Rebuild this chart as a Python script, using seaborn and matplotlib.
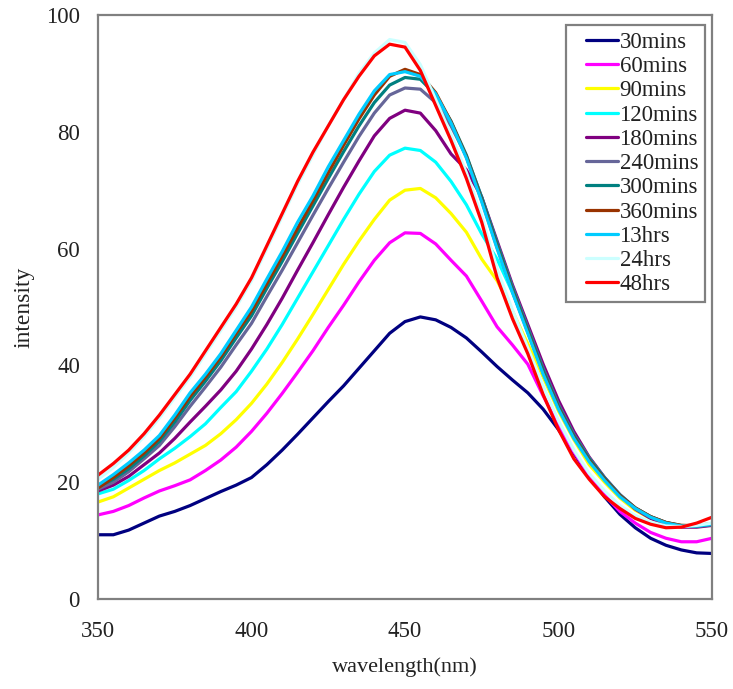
import matplotlib
matplotlib.use("Agg")
import matplotlib.pyplot as plt
from matplotlib.legend_handler import HandlerLine2D
import numpy as np
import seaborn as sns
import pandas as pd

wavelength = [350, 355, 360, 365, 370, 375, 380, 385, 390, 395, 400, 405, 410, 415, 420,
              425, 430, 435, 440, 445, 450, 455, 460, 465, 470, 475, 480, 485, 490, 495,
              500, 505, 510, 515, 520, 525, 530, 535, 540, 545, 550]

series_names = ["30mins", "60mins", "90mins", "120mins", "180mins", "240mins",
                "300mins", "360mins", "13hrs", "24hrs", "48hrs"]

s30mins = [11, 11, 11.8, 13, 14.2, 15, 16, 17.2, 18.4, 19.5, 20.8, 23, 25.5, 28.2, 31,
           33.8, 36.5, 39.5, 42.5, 45.5, 47.5, 48.3, 47.8, 46.5, 44.7, 42.3, 39.8, 37.5, 35.3, 32.5,
           29, 25, 21, 17.5, 14.5, 12.2, 10.4, 9.2, 8.4, 7.9, 7.8]
s60mins = [14.4, 15, 16, 17.3, 18.5, 19.4, 20.4, 22, 23.8, 26, 28.7, 31.8, 35.2, 38.8, 42.5,
           46.5, 50.3, 54.3, 58, 61, 62.7, 62.6, 60.8, 58, 55.3, 51, 46.6, 43.5, 40.2, 34.8,
           29.7, 25.2, 21.2, 17.8, 15, 13, 11.4, 10.4, 9.8, 9.8, 10.4]
s90mins = [16.6, 17.5, 19, 20.5, 22, 23.3, 24.8, 26.3, 28.3, 30.7, 33.5, 36.8, 40.5, 44.5, 48.7,
           53, 57.3, 61.3, 65, 68.3, 70, 70.3, 68.7, 66, 62.8, 58.2, 54.5, 49.3, 43.7, 38,
           32.2, 27.3, 23, 20, 17.3, 15.2, 13.8, 12.8, 12.4, 12.5, 12.9]
s120mins = [18, 18.8, 20.3, 22, 24, 25.8, 27.8, 30, 32.8, 35.5, 39, 42.8, 47, 51.5, 56,
            60.5, 65, 69.3, 73.2, 76, 77.2, 76.8, 74.8, 71.5, 67.5, 62.5, 58.2, 52.5, 46, 39.2,
            33.2, 28.2, 23.8, 20.6, 17.7, 15.5, 14, 13, 12.5, 12.5, 12.8]
s180mins = [18.5, 19.5, 21, 23, 25, 27.5, 30.3, 33, 35.8, 39, 42.8, 47, 51.5, 56.3, 61,
            65.8, 70.5, 75, 79.3, 82.3, 83.7, 83.2, 80.2, 76.2, 73.5, 68.8, 61.3, 53.8, 47, 40.2,
            34, 28.7, 24.3, 20.8, 17.8, 15.4, 13.8, 12.8, 12.3, 12.3, 12.6]
s240mins = [18.8, 20, 21.8, 24, 26.3, 29.5, 33, 36.3, 39.7, 43.5, 47.2, 51.8, 56.3, 61, 65.7,
            70.3, 74.8, 79.2, 83.2, 86.3, 87.5, 87.3, 85, 81, 75.8, 68.8, 61, 53.5, 46.5, 39.5,
            33.3, 28.2, 24.2, 20.8, 17.9, 15.6, 14.1, 13.1, 12.5, 12.4, 12.7]
s300mins = [19.2, 20.5, 22.3, 24.5, 27, 30.3, 34, 37.3, 40.8, 44.7, 48.5, 53.2, 57.8, 62.6, 67.3,
            72, 76.6, 81, 85, 88, 89.3, 89, 86.3, 81.8, 76, 68.7, 60.8, 53.2, 46.2, 39.2,
            33, 28, 24, 20.7, 17.8, 15.6, 14.1, 13.1, 12.6, 12.5, 12.8]
s360mins = [19, 20.8, 22.8, 25, 27.5, 31, 34.7, 38, 41.5, 45.5, 49.3, 54, 58.7, 63.5, 68.2,
            73, 77.7, 82.2, 86.3, 89.5, 90.7, 89.8, 86.7, 81.7, 75.7, 68.2, 60.2, 52.7, 45.7, 38.7,
            32.7, 27.7, 23.7, 20.5, 17.7, 15.6, 14.1, 13.1, 12.6, 12.6, 12.9]
s13hrs = [19.5, 21.3, 23.3, 25.5, 28, 31.5, 35.3, 38.5, 42, 46, 50, 54.8, 59.5, 64.5, 69,
          74, 78.5, 83, 87, 89.8, 90.3, 89.5, 86.5, 81.5, 75.5, 68, 60, 52.5, 45.5, 38.5,
          32.5, 27.5, 23.5, 20.3, 17.5, 15.5, 14, 13, 12.5, 12.5, 12.8]
s24hrs = [20.5, 22.5, 25, 27.8, 31, 34.5, 38, 42, 46, 50, 54.5, 60, 65.5, 71, 76,
          81, 85.5, 90, 93.5, 95.8, 95.3, 91.5, 85.5, 79.5, 73, 65.5, 56.5, 49.5, 43, 36.5,
          30.5, 25.5, 21.5, 18.5, 16, 14.3, 13.2, 12.5, 12.4, 12.6, 13]
s48hrs = [21.2, 23.2, 25.5, 28.3, 31.5, 35, 38.5, 42.5, 46.5, 50.5, 55, 60.5, 66, 71.5, 76.5,
          81, 85.5, 89.5, 93, 95, 94.5, 90.5, 84.5, 78.5, 72, 64.5, 55, 48, 42, 35,
          29, 24, 20.5, 17.5, 15.5, 13.8, 12.8, 12.2, 12.3, 13, 14]

colors = ["#000080", "#FF00FF", "#FFFF00", "#00FFFF", "#800080", "#666699",
          "#008080", "#993300", "#00CCFF", "#CCFFFF", "#FF0000"]

x_ticks = [350, 400, 450, 500, 550]
y_ticks = [0, 20, 40, 60, 80, 100]

all_series = [s30mins, s60mins, s90mins, s120mins, s180mins, s240mins,
              s300mins, s360mins, s13hrs, s24hrs, s48hrs]
frames = []
for name, vals in zip(series_names, all_series):
    frames.append(pd.DataFrame({"wavelength": wavelength, "intensity": vals, "series": name}))
df = pd.concat(frames, ignore_index=True)

sns.set_style("white")
plt.rcParams["font.family"] = ["Liberation Serif", "DejaVu Serif"]

fig = plt.figure(figsize=(7.33, 6.89), dpi=100)
ax = fig.add_axes([98 / 733, 1 - 599 / 689, 614 / 733, 584 / 689])

palette = dict(zip(series_names, colors))
sns.lineplot(data=df, x="wavelength", y="intensity", hue="series", hue_order=series_names,
             palette=palette, linewidth=2.3, ax=ax, legend=True)

ax.set_xlim(350, 550)
ax.set_ylim(0, 100)
ax.set_xticks(x_ticks)
ax.set_yticks(y_ticks)
ax.tick_params(axis="both", direction="in", length=5, width=1.2, color="#808080",
               labelsize=16.5, labelcolor="#222222")
ax.tick_params(axis="x", pad=16)
ax.tick_params(axis="y", pad=13)
for sp in ax.spines.values():
    sp.set_color("#808080")
    sp.set_linewidth(1.6)
    sp.set_visible(True)

ax.set_xlabel("wavelength(nm)", fontsize=16, color="#222222", labelpad=11)
ax.set_ylabel("intensity", fontsize=17, color="#222222", labelpad=8)


class ShortLine(HandlerLine2D):
    def get_xdata(self, legend, xdescent, ydescent, width, height, fontsize):
        x0 = -xdescent + 0.3 * width
        x1 = -xdescent + width
        return np.array([x0, x1]), np.array([0.5 * (x0 + x1)])


handles, labels = ax.get_legend_handles_labels()
leg = ax.legend(handles, labels, loc="upper right", bbox_to_anchor=(0.9886, 0.983),
                fontsize=16.5, frameon=True, fancybox=False, framealpha=1,
                edgecolor="#808080", handlelength=2.0, handletextpad=0.05,
                labelspacing=0.14, borderpad=0.3, borderaxespad=0,
                handler_map={h: ShortLine() for h in handles})
leg.get_frame().set_linewidth(1.6)
for t in leg.get_texts():
    t.set_color("#222222")

fig.savefig("out.png", dpi=100)
